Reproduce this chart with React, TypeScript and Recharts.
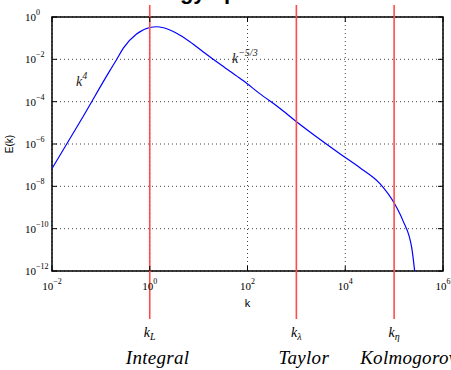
import React from 'react';
import {
  LineChart,
  Line,
  XAxis,
  YAxis,
  CartesianGrid,
  ReferenceLine,
  ReferenceArea,
  ReferenceDot,
} from 'recharts';

const WIDTH = 451;
const HEIGHT = 370;
const PLOT_LEFT = 52;
const PLOT_RIGHT = 443;
const PLOT_TOP = 17;
const PLOT_BOTTOM = 271;

// model spectrum, wavenumber k and energy E(k)
const wavenumbers = [
  0.01, 0.041, 0.155, 0.209, 0.288, 0.537, 1.0, 1.38, 1.905, 3.548, 6.607, 12.3, 23.44,
  43.65, 81.28, 177.8, 457.1, 933.3, 7762, 19953, 51286, 102329, 151356, 229087, 263027,
];
const energy = [
  6.9e-8, 1.6e-5, 3.1e-3, 9.5e-3, 3.4e-2, 0.158, 0.32, 0.347, 0.31, 0.17, 6.8e-2, 2.3e-2, 7.6e-3,
  2.75e-3, 1.0e-3, 2.4e-4, 4.9e-5, 1.3e-5, 3.5e-7, 7.6e-8, 1.35e-8, 1.5e-9, 2.4e-10, 1.26e-11, 1e-12,
];

const xTicks = [1e-2, 1, 1e2, 1e4, 1e6];
const yTicks = [1e-12, 1e-10, 1e-8, 1e-6, 1e-4, 1e-2, 1];

// characteristic wavenumbers
const scaleK = [1, 1e3, 1e5];
const scaleSymbol = ['L', 'λ', 'η'];
const scaleName = ['Integral', 'Taylor', 'Kolmogorov'];
const nameShift = [-24, -18, -34];

// slope annotations
const slopeK = [0.031, 48];
const slopeE = [5.4e-4, 6.6e-3];
const slopePower = ['4', '\u22125/3'];

const data = wavenumbers.map((k, i) => ({ k, E: energy[i] }));

const SERIF = '"Liberation Serif", "Times New Roman", serif';
const SANS = '"Liberation Sans", Arial, sans-serif';

const exponent = (v: number) => {
  const e = Math.round(Math.log10(v));
  return e < 0 ? `\u2212${-e}` : `${e}`;
};

const XTick = ({ x, payload }: any) => (
  <g>
    <line x1={x} x2={x} y1={PLOT_BOTTOM} y2={PLOT_BOTTOM - 5} stroke="#000" />
    <line x1={x} x2={x} y1={PLOT_TOP} y2={PLOT_TOP + 5} stroke="#000" />
    <text x={x} y={PLOT_BOTTOM + 19} textAnchor="middle" fontFamily={SERIF} fontSize={11} fill="#000">
      10<tspan dy={-6} fontSize={8}>{exponent(payload.value)}</tspan>
    </text>
  </g>
);

const YTick = ({ y, payload }: any) => (
  <g>
    <line x1={PLOT_LEFT} x2={PLOT_LEFT + 5} y1={y} y2={y} stroke="#000" />
    <line x1={PLOT_RIGHT} x2={PLOT_RIGHT - 5} y1={y} y2={y} stroke="#000" />
    <text x={PLOT_LEFT - 27} y={y + 4} fontFamily={SERIF} fontSize={11} fill="#000">
      10<tspan dy={-6} fontSize={8}>{exponent(payload.value)}</tspan>
    </text>
  </g>
);

const scaleMarker = (i: number) => (props: any) => {
  const { x1, y1, y2 } = props;
  const top = Math.min(y1, y2);
  const bottom = Math.max(y1, y2);
  return (
    <g>
      <line x1={x1} x2={x1} y1={top - 12} y2={bottom + 48} stroke="#ff4b4b" strokeWidth={1.6} />
      <text x={x1} y={PLOT_BOTTOM + 66} textAnchor="middle" fontFamily={SERIF} fontStyle="italic" fontSize={14} fill="#000">
        k<tspan dy={3} fontSize={10}>{scaleSymbol[i]}</tspan>
      </text>
      <text
        x={x1 + nameShift[i]}
        y={PLOT_BOTTOM + 93}
        fontFamily={SERIF}
        fontStyle="italic"
        fontSize={19}
        letterSpacing={0.3}
        fill="#000"
      >
        {scaleName[i]}
      </text>
    </g>
  );
};

const slopeLabel = (i: number) => (props: any) => (
  <text x={props.cx} y={props.cy} fontFamily={SERIF} fontStyle="italic" fontSize={14} fill="#222">
    k<tspan dy={-7} fontSize={10}>{slopePower[i]}</tspan>
  </text>
);

export default function App() {
  return (
    <div style={{ position: 'absolute', left: 0, top: 0, width: WIDTH, height: HEIGHT, background: '#fff' }}>
      <LineChart
        width={WIDTH}
        height={HEIGHT}
        data={data}
        margin={{ top: PLOT_TOP, right: WIDTH - PLOT_RIGHT, left: 0, bottom: 0 }}
      >
        <CartesianGrid stroke="#444" strokeDasharray="1 3" />
        <XAxis
          dataKey="k"
          type="number"
          scale="log"
          domain={[1e-2, 1e6]}
          ticks={xTicks}
          interval={0}
          allowDataOverflow
          height={HEIGHT - PLOT_BOTTOM}
          axisLine={false}
          tickLine={false}
          tick={<XTick />}
        />
        <YAxis
          dataKey="E"
          type="number"
          scale="log"
          domain={[1e-12, 1]}
          ticks={yTicks}
          interval={0}
          allowDataOverflow
          width={PLOT_LEFT}
          axisLine={false}
          tickLine={false}
          tick={<YTick />}
        />
        <ReferenceArea x1={1e-2} x2={1e6} y1={1e-12} y2={1} fill="none" stroke="#000" strokeWidth={1.5} />
        <Line
          type="monotone"
          dataKey="E"
          stroke="#0000ff"
          strokeWidth={1.2}
          dot={false}
          isAnimationActive={false}
        />
        {scaleK.map((k, i) => (
          <ReferenceLine key={k} x={k} shape={scaleMarker(i)} />
        ))}
        {slopeK.map((k, i) => (
          <ReferenceDot key={k} x={k} y={slopeE[i]} shape={slopeLabel(i)} />
        ))}
        <text x={131} y={-1.5} fontFamily={SANS} fontWeight="bold" fontSize={22} fill="#000">
          Energy spectrum
        </text>
        <text
          x={13}
          y={(PLOT_TOP + PLOT_BOTTOM) / 2}
          transform={`rotate(-90 13 ${(PLOT_TOP + PLOT_BOTTOM) / 2})`}
          textAnchor="middle"
          fontFamily={SANS}
          fontSize={10}
          fill="#000"
        >
          E(k)
        </text>
        <text x={(PLOT_LEFT + PLOT_RIGHT) / 2} y={PLOT_BOTTOM + 36} textAnchor="middle" fontFamily={SANS} fontSize={11} fill="#000">
          k
        </text>
      </LineChart>
    </div>
  );
}
